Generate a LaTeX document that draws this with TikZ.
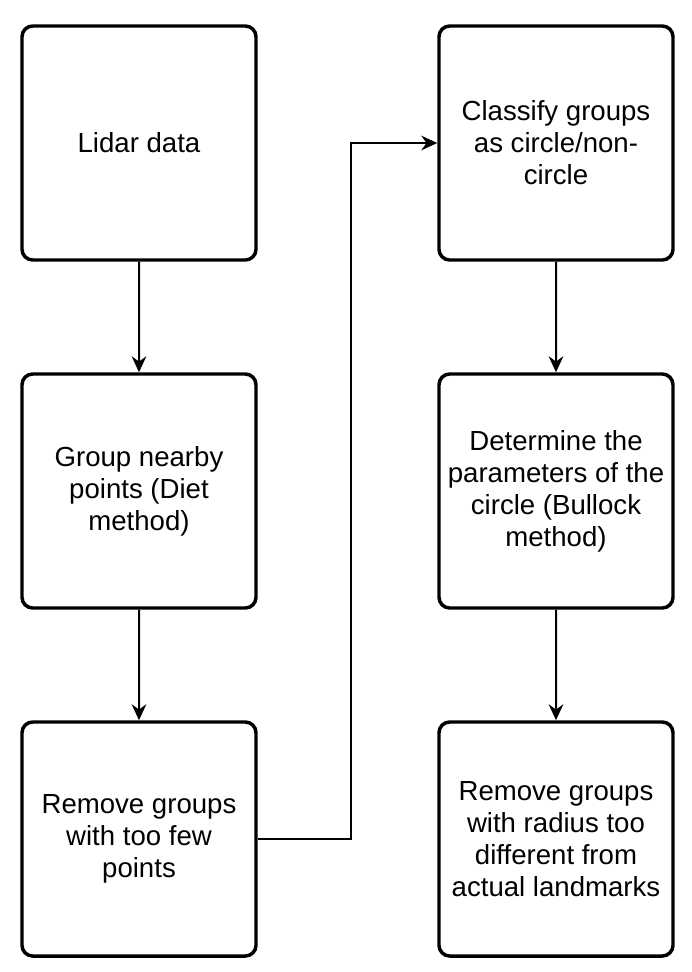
\documentclass[tikz,border=0pt]{standalone}
\usepackage{fontspec}
\setmainfont{Liberation Sans}
\usetikzlibrary{arrows.meta}

\tikzset{
  stepbox/.style={draw, line width=2.6bp, rounded corners=8bp,
    minimum width=175.5bp, minimum height=175.5bp, inner sep=0pt,
    align=center, font=\fontsize{20.7bp}{24bp}\selectfont},
  flow/.style={draw, line width=1.5bp, -{Stealth[length=12bp, width=11bp, inset=4bp]}}
}

\begin{document}
\begin{tikzpicture}[x=0.75bp, y=-0.75bp, level distance=261bp,
    edge from parent/.style={flow}]
  \useasboundingbox (0,0) rectangle (692,972);
  \node[stepbox] (lidar) at (139,143) {Lidar data}
    child {
      node[stepbox] (group) {Group nearby\\points (Diet\\method)}
        child {
          node[stepbox] (few) {Remove groups\\with too few\\points}
        }
    };
  \node[stepbox] (classify) at (556,143) {Classify groups\\as circle/non-\\circle}
    child {
      node[stepbox] (param) {Determine the\\parameters of the\\circle (Bullock\\method)}
        child {
          node[stepbox] (radius) {Remove groups\\with radius too\\different from\\actual landmarks}
        }
    };
  \draw[flow] (few.east) -- ++(93,0) |- (classify.west);
\end{tikzpicture}
\end{document}
